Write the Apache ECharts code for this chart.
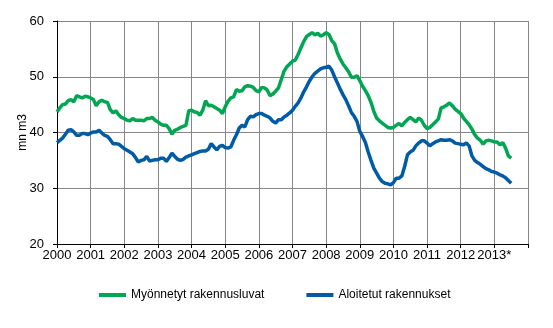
<!DOCTYPE html>
<html>
<head>
<meta charset="utf-8">
<script src="https://cdn.jsdelivr.net/npm/echarts@6/dist/echarts.min.js"></script>
<style>
  html, body { margin: 0; padding: 0; background: #fff; }
  #chart { width: 553px; height: 328px; }
</style>
</head>
<body>
<div id="chart"></div>
<script>
// Monthly trend series, million cubic metres, January 2000 onward
const startYear = 2000;
const yearTicks = ['2000', '2001', '2002', '2003', '2004', '2005', '2006',
                   '2007', '2008', '2009', '2010', '2011', '2012', '2013*'];
const seriesNames = ['Myönnetyt rakennusluvat', 'Aloitetut rakennukset'];

const permits = [
  43.7, 44.4, 45.0, 45.1, 45.7, 45.9, 45.5, 46.6, 46.4, 46.2, 46.5, 46.4,
  46.2, 45.9, 44.8, 45.5, 45.8, 45.5, 45.4, 44.1, 43.5, 43.9, 43.2, 42.7,
  42.5, 42.2, 42.1, 42.5, 42.2, 42.2, 42.2, 42.1, 42.5, 42.5, 42.7, 42.2,
  41.9, 41.5, 41.3, 41.3, 40.7, 39.7, 40.4, 40.6, 40.9, 41.1, 41.3, 43.9,
  44.0, 43.7, 43.6, 43.1, 44.0, 45.7, 44.8, 44.9, 44.6, 44.3, 44.0, 43.4,
  44.6, 45.6, 46.2, 46.4, 47.7, 47.4, 47.5, 48.2, 48.4, 48.3, 48.1, 47.5,
  47.3, 48.1, 48.0, 47.6, 46.6, 46.9, 47.4, 48.0, 49.5, 51.0, 51.8, 52.3,
  52.8, 53.0, 54.0, 55.2, 56.3, 57.2, 57.6, 57.9, 57.5, 57.8, 57.3, 57.5,
  57.9, 57.6, 56.5, 55.9, 54.3, 53.2, 52.3, 51.6, 50.9, 49.9, 49.9, 50.2,
  49.3, 48.3, 47.5, 46.6, 45.4, 43.8, 42.6, 42.1, 41.7, 41.3, 40.9, 40.8,
  40.9, 41.3, 41.6, 41.2, 41.8, 42.3, 42.7, 42.3, 41.9, 42.6, 42.2, 41.3,
  40.7, 40.9, 41.4, 41.9, 42.4, 44.4, 44.6, 44.9, 45.3, 44.8, 44.2, 43.8,
  43.4, 42.6, 42.0, 41.4, 40.6, 39.6, 39.0, 38.6, 37.9, 38.5, 38.6, 38.5,
  38.3, 38.3, 37.8, 38.2, 37.2, 35.8, 35.4
];

const starts = [
  38.2, 38.6, 39.0, 39.7, 40.4, 40.5, 40.1, 39.5, 39.5, 39.8, 39.8, 39.6,
  39.9, 40.1, 40.1, 40.4, 39.9, 39.5, 39.3, 38.7, 38.0, 38.0, 37.9, 37.5,
  37.1, 36.8, 36.5, 36.2, 35.5, 34.7, 35.0, 35.1, 35.7, 34.9, 35.0, 35.1,
  35.1, 35.4, 35.4, 34.8, 35.5, 36.3, 35.7, 35.2, 35.0, 35.2, 35.6, 35.8,
  36.0, 36.2, 36.4, 36.6, 36.7, 36.7, 37.0, 38.0, 37.4, 36.9, 37.5, 37.7,
  37.3, 37.2, 37.4, 38.6, 39.6, 40.8, 41.3, 41.0, 42.3, 42.9, 42.8, 43.2,
  43.4, 43.4, 43.1, 42.9, 42.6, 42.0, 41.7, 42.3, 42.3, 42.8, 43.1, 43.5,
  44.0, 44.7, 45.3, 46.2, 47.3, 48.2, 49.2, 50.0, 50.6, 51.0, 51.4, 51.6,
  51.7, 51.9, 51.2, 50.0, 48.9, 47.8, 46.8, 45.9, 44.8, 43.6, 42.9, 42.0,
  40.2, 39.3, 38.2, 36.5, 35.0, 33.6, 32.7, 31.8, 31.2, 30.9, 30.8, 30.6,
  31.0, 31.8, 31.8, 32.2, 33.9, 36.0, 36.5, 36.8, 37.6, 38.1, 38.5, 38.5,
  38.1, 37.6, 38.0, 38.3, 38.5, 38.7, 38.6, 38.6, 38.7, 38.5, 38.1, 38.0,
  37.9, 37.8, 38.1, 37.6, 35.8, 35.0, 34.6, 34.3, 33.9, 33.5, 33.3, 33.0,
  32.9, 32.7, 32.4, 32.2, 31.9, 31.4, 30.9
];

// Pair each monthly value with its decimal-year date
const toPoints = vals => vals.map((v, i) => [startYear + i / 12, v]);

const gridColor = '#868686';
const font = 'Liberation Sans, Arial, sans-serif';

const chart = echarts.init(document.getElementById('chart'), null, { renderer: 'canvas' });
chart.setOption({
  animation: false,
  backgroundColor: '#ffffff',
  grid: { left: 57, right: 25, top: 21, bottom: 84, containLabel: false },
  xAxis: {
    type: 'value',
    min: startYear,
    max: startYear + yearTicks.length,
    interval: 1,
    axisLine: { lineStyle: { color: '#000', width: 1 } },
    axisTick: { show: true, length: 4, lineStyle: { color: '#000' } },
    splitLine: { show: true, lineStyle: { color: gridColor, width: 1 } },
    axisLabel: {
      color: '#000', fontFamily: font, fontSize: 13, margin: 5,
      formatter: v => yearTicks[Math.round(v - startYear)] || ''
    }
  },
  yAxis: {
    type: 'value',
    min: 20, max: 60, interval: 10,
    name: 'mn m3',
    nameLocation: 'middle',
    nameRotate: 90,
    nameGap: 28,
    nameMoveOverlap: false,
    nameTextStyle: { color: '#000', fontFamily: font, fontSize: 12 },
    axisLine: { show: true, lineStyle: { color: '#000', width: 1 } },
    axisTick: { show: true, length: 4, lineStyle: { color: '#000' } },
    splitLine: { show: true, lineStyle: { color: gridColor, width: 1 } },
    axisLabel: { color: '#000', fontFamily: font, fontSize: 13, margin: 13 }
  },
  legend: {
    left: 99,
    top: 289,
    padding: 0,
    icon: 'rect',
    itemWidth: 27,
    itemHeight: 4,
    itemGap: 42,
    textStyle: { color: '#000', fontFamily: font, fontSize: 12 },
    data: seriesNames
  },
  series: [
    {
      name: seriesNames[0],
      type: 'line',
      data: toPoints(permits),
      symbol: 'none',
      lineStyle: { color: '#00a651', width: 3.5 },
      itemStyle: { color: '#00a651' },
      z: 2
    },
    {
      name: seriesNames[1],
      type: 'line',
      data: toPoints(starts),
      symbol: 'none',
      lineStyle: { color: '#005ba6', width: 3.5 },
      itemStyle: { color: '#005ba6' },
      z: 3
    }
  ]
});
</script>
</body>
</html>
